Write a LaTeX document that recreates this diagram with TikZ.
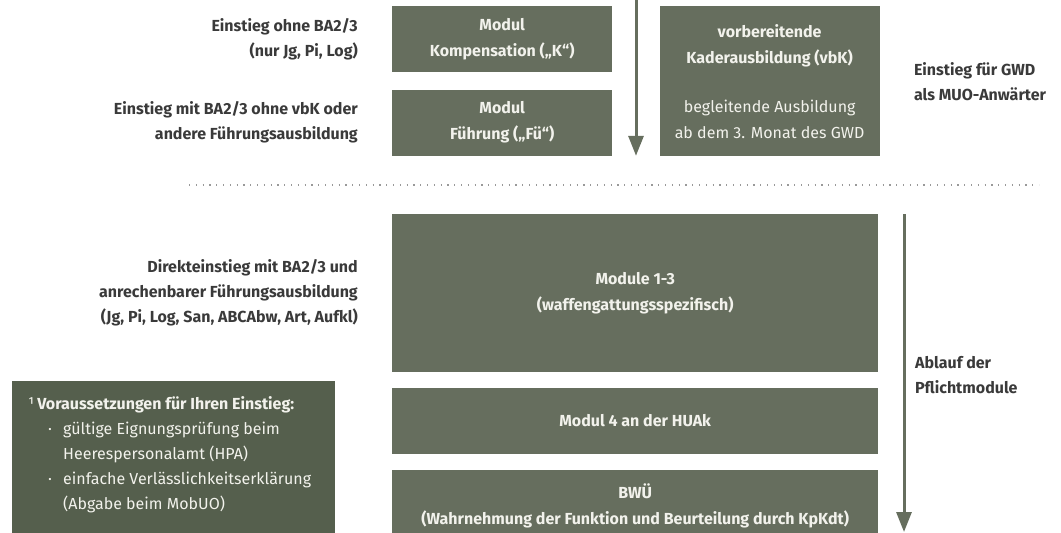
\documentclass[tikz,border=0pt]{standalone}
\usepackage{fontspec}
\setmainfont{Fira Sans}
\usepackage{tikz}
\usetikzlibrary{positioning,calc,arrows.meta}
\definecolor{boxgreen}{RGB}{102,110,94}
\definecolor{notegreen}{RGB}{85,95,77}
\definecolor{lbltext}{RGB}{58,58,58}
\definecolor{boxtext}{RGB}{242,242,236}

\begin{document}
\begin{tikzpicture}[x=1pt, y=-1pt, node distance=17pt,
        block/.style={fill=boxgreen, text=boxtext, minimum width=220pt, minimum height=66pt, align=center, inner sep=0pt, font=\fontsize{16}{26}\selectfont\bfseries},
        lbl/.style={text=lbltext, align=right, inner sep=0pt, font=\fontsize{16}{25}\selectfont\bfseries},
        notebox/.style={fill=notegreen, minimum width=323pt, minimum height=160pt, inner sep=0pt},
        notetext/.style={text=boxtext, align=left, inner sep=0pt, font=\fontsize{16}{25}\selectfont},
        flow/.style={draw=boxgreen, line width=3pt, ->},
        sepline/.style={draw=gray!80, line width=1.2pt, dash pattern=on 1.2pt off 5.6pt},
        >={Triangle[width=15pt,length=20pt]}
    ]
        \useasboundingbox (0,0) rectangle (1061,533);
        \clip (0,0) rectangle (1061,533);

        % Entry modules
        \node [block, anchor=north west] (komp) at (392,6) {Modul\\Kompensation („K“)};
        \node [block, below=17pt of komp] (fue) {Modul\\Führung („Fü“)};
        \node [block, minimum height=150pt, right=47pt of komp.north east, anchor=north west] (vbk)
            {vorbereitende\\Kaderausbildung (vbK)\\[23pt]{\mdseries begleitende Ausbildung}\\{\mdseries ab dem 3. Monat des GWD}};

        % Separator
        \coordinate (sepl) at (189,185);
        \coordinate (sepr) at (1039,185);
        \draw [sepline] (sepl) -- (sepr);

        % Mandatory modules
        \node [block, minimum width=486pt, minimum height=158pt, anchor=north west] (mod) at (392,214) {Module 1-3\\(waffengattungsspezifisch)};
        \node [block, minimum width=486pt, below=15pt of mod] (huak) {Modul 4 an der HUAk};
        \node [block, minimum width=486pt, minimum height=72pt, below=16pt of huak] (bwue) {BWÜ\\(Wahrnehmung der Funktion und Beurteilung durch KpKdt)};

        % Labels
        \node [lbl, left=34pt of komp] (lkomp) {Einstieg ohne BA2/3\\(nur Jg, Pi, Log)};
        \node [lbl, left=34pt of fue] (lfue) {Einstieg mit BA2/3 ohne vbK oder\\andere Führungsausbildung};
        \node [lbl, left=34pt of mod] (lmod) {Direkteinstieg mit BA2/3 und\\anrechenbarer Führungsausbildung\\(Jg, Pi, Log, San, ABCAbw, Art, Aufkl)};
        \node [lbl, align=left, right=34pt of vbk] (lgwd) {Einstieg für GWD\\als MUO-Anwärter};

        % Arrows
        \coordinate (topin) at (636,0);
        \draw [flow] (topin) -- (topin |- fue.south);
        \coordinate (flowend) at (904,532);
        \draw [flow] (flowend |- mod.north) -- (flowend);
        \node [lbl, align=left, anchor=west] (lflow) at (915,375) {Ablauf der\\Pflichtmodule};

        % Requirements
        \node [notebox, anchor=north west] (req) at (12,381) {};
        \node [notetext, anchor=north west] (reqtxt) at ([xshift=16pt, yshift=-15pt]req.north west)
            {¹\,\textbf{Voraussetzungen für Ihren Einstieg:}\\
             \hspace*{20pt}\makebox[15pt][l]{·}gültige Eignungsprüfung beim\\
             \hspace*{35pt}Heerespersonalamt (HPA)\\
             \hspace*{20pt}\makebox[15pt][l]{·}einfache Verlässlichkeitserklärung\\
             \hspace*{35pt}(Abgabe beim MobUO)};
\end{tikzpicture}
\end{document}
